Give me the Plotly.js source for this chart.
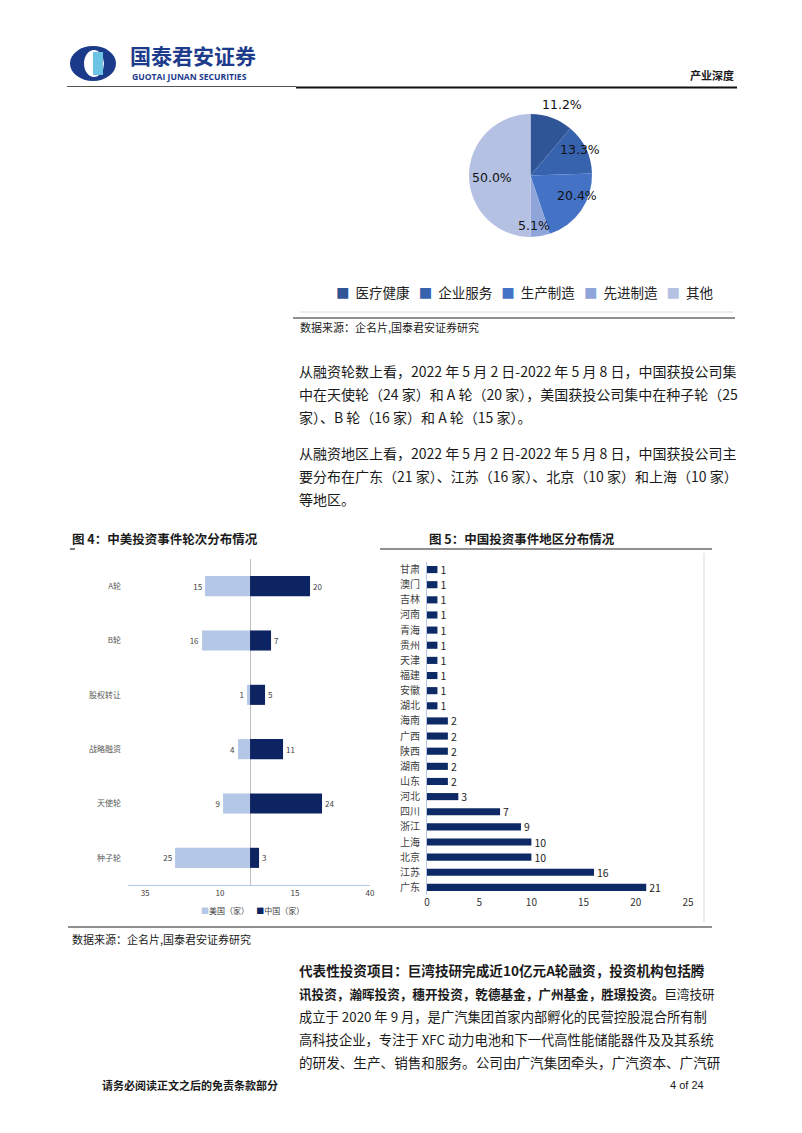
<!DOCTYPE html>
<html>
<head>
<meta charset="utf-8">
<script src="https://cdn.plot.ly/plotly-3.0.1.min.js"></script>
<style>
html,body{margin:0;padding:0;background:#fff;}
#chart{width:802px;height:1133px;}
</style>
</head>
<body>
<div id="chart"></div>
<script>
// ---------- DATA ----------
const pieLabels = ['医疗健康', '企业服务', '生产制造', '先进制造', '其他'];
const pieValues = [11.2, 13.3, 20.4, 5.1, 50.0];

const roundCats = ['A轮', 'B轮', '股权转让', '战略融资', '天使轮', '种子轮'];
const usCounts = [15, 16, 1, 4, 9, 25];
const cnCounts = [20, 7, 5, 11, 24, 3];
const roundTickVals = [-35, -10, 15, 40];
const roundTickText = ['35', '10', '15', '40'];
const roundSeries = ['美国（家）', '中国（家）'];

const regions = ['甘肃', '澳门', '吉林', '河南', '青海', '贵州', '天津', '福建', '安徽', '湖北',
  '海南', '广西', '陕西', '湖南', '山东', '河北', '四川', '浙江', '上海', '北京', '江苏', '广东'];
const regionCounts = [1, 1, 1, 1, 1, 1, 1, 1, 1, 1, 2, 2, 2, 2, 2, 3, 7, 9, 10, 10, 16, 21];
const regionTickVals = [0, 5, 10, 15, 20, 25];

// ---------- STYLE ----------
const W = 802, H = 1133;
const px = x => x / W;
const py = y => 1 - y / H;
const FONT = '"Noto Sans CJK SC", "Noto Sans", sans-serif';
const pieColors = ['#2F5597', '#3762AE', '#4472C4', '#8FA5DA', '#B5C1E3'];
const usColor = '#B4C7E7';
const cnColor = '#0D2462';
const regionColor = '#0E2A66';

// pie label pixel positions
const pieLabelPos = [[562, 104], [580, 150], [577, 196], [534, 226], [492, 177]];

const traces = [];

traces.push({
  type: 'pie',
  labels: pieLabels,
  values: pieValues,
  sort: false,
  direction: 'clockwise',
  rotation: 0,
  marker: {colors: pieColors, line: {width: 0}},
  textinfo: 'none',
  hoverinfo: 'label+percent',
  domain: {x: [px(469), px(592)], y: [py(237), py(114)]},
  showlegend: false
});

traces.push({
  type: 'bar', orientation: 'h',
  name: roundSeries[0],
  y: roundCats,
  x: usCounts.map(v => -v),
  text: usCounts.map(String),
  textposition: 'outside',
  constraintext: 'none',
  textfont: {size: 8, color: '#404040', family: FONT},
  cliponaxis: false,
  marker: {color: usColor},
  width: 0.37,
  xaxis: 'x', yaxis: 'y',
  showlegend: false
});
traces.push({
  type: 'bar', orientation: 'h',
  name: roundSeries[1],
  y: roundCats,
  x: cnCounts,
  text: cnCounts.map(String),
  textposition: 'outside',
  constraintext: 'none',
  textfont: {size: 8, color: '#404040', family: FONT},
  cliponaxis: false,
  marker: {color: cnColor},
  width: 0.37,
  xaxis: 'x', yaxis: 'y',
  showlegend: false
});

traces.push({
  type: 'bar', orientation: 'h',
  y: regions,
  x: regionCounts,
  text: regionCounts.map(String),
  textposition: 'outside',
  constraintext: 'none',
  textfont: {size: 10.5, color: '#222', family: FONT},
  cliponaxis: false,
  marker: {color: regionColor},
  width: 0.47,
  xaxis: 'x2', yaxis: 'y2',
  showlegend: false
});

// ---------- ANNOTATIONS ----------
const ann = [];
function txt(x, y, text, size, opts) {
  opts = opts || {};
  ann.push(Object.assign({
    xref: 'paper', yref: 'paper', x: px(x), y: py(y),
    text: text, showarrow: false,
    xanchor: 'left', yanchor: 'middle',
    font: {size: size, color: '#1a1a1a', family: FONT}
  }, opts));
}

// header
txt(128, 55, '<b>国泰君安证券</b>', 21, {font: {size: 21, color: '#1E3C8C', family: FONT}});
txt(130, 76.5, '<b>GUOTAI JUNAN SECURITIES</b>', 8.6, {font: {size: 8.6, color: '#1E3C8C', family: '"Open Sans", sans-serif'}});
txt(736, 75, '<b>产业深度</b>', 11, {xanchor: 'right'});

// pie labels from values
pieValues.forEach((v, i) => {
  txt(pieLabelPos[i][0], pieLabelPos[i][1], v.toFixed(1) + '%', 12.5,
    {xanchor: 'center', font: {size: 12.5, color: '#111', family: '"DejaVu Sans", sans-serif'}});
});

// pie legend
const pieLegend = pieLabels.map((l, i) =>
  '<span style="color:' + pieColors[i] + '">■</span>  ' + l).join('   ');
txt(524, 292, pieLegend, 13.5, {xanchor: 'center', font: {size: 13.5, color: '#222', family: FONT}});

txt(298, 327, '数据来源：企名片,国泰君安证券研究', 11);

// body paragraph 1
const p1 = [
  '从融资轮数上看，2022 年 5 月 2 日-2022 年 5 月 8 日，中国获投公司集',
  '中在天使轮（24 家）和 A 轮（20 家），美国获投公司集中在种子轮（25',
  '家）、B 轮（16 家）和 A 轮（15 家）。'
];
const p2 = [
  '从融资地区上看，2022 年 5 月 2 日-2022 年 5 月 8 日，中国获投公司主',
  '要分布在广东（21 家）、江苏（16 家）、北京（10 家）和上海（10 家）',
  '等地区。'
];
[371, 394, 417].forEach((y, i) => txt(297, y, p1[i], 14));
[453, 476, 499].forEach((y, i) => txt(297, y, p2[i], 14));

// figure titles
txt(70, 538, '<b>图 4：中美投资事件轮次分布情况</b>', 12.5);
txt(427, 538, '<b>图 5：中国投资事件地区分布情况</b>', 12.5);

// fig4 legend
const rLegend = '<span style="color:' + usColor + '">■</span>' + roundSeries[0] +
  '    <span style="color:' + cnColor + '">■</span>' + roundSeries[1];
txt(252, 910, rLegend, 8, {xanchor: 'center', font: {size: 8, color: '#404040', family: FONT}});

txt(70, 939, '数据来源：企名片,国泰君安证券研究', 11);

// bottom paragraph
const p3 = [
  '<b>代表性投资项目：巨湾技研完成近10亿元A轮融资，投资机构包括腾</b>',
  '<b>讯投资，瀚晖投资，穗开投资，乾德基金，广州基金，胜璟投资。</b>巨湾技研',
  '成立于 2020 年 9 月，是广汽集团首家内部孵化的民营控股混合所有制',
  '高科技企业，专注于 XFC 动力电池和下一代高性能储能器件及及其系统',
  '的研发、生产、销售和服务。公司由广汽集团牵头，广汽资本、广汽研'
];
const p3Size = [13.6, 12.6, 13.3, 13.3, 13.6];
[970, 993, 1016, 1039, 1062].forEach((y, i) => txt(297, y, p3[i], p3Size[i]));

txt(100, 1085, '<b>请务必阅读正文之后的免责条款部分</b>', 11);
txt(668, 1085, '4 of 24', 11, {font: {size: 11, color: '#1a1a1a', family: '"Liberation Sans Narrow", "Liberation Sans", sans-serif'}});

// ---------- SHAPES ----------
function line(x0, y0, x1, y1, color, width) {
  return {type: 'line', xref: 'paper', yref: 'paper',
    x0: px(x0), y0: py(y0), x1: px(x1), y1: py(y1),
    line: {color: color, width: width}};
}
const shapes = [
  // logo
  {type: 'circle', xref: 'paper', yref: 'paper', x0: px(70), x1: px(116), y0: py(81), y1: py(46),
    fillcolor: '#1B3A8A', line: {width: 0}},
  {type: 'circle', xref: 'paper', yref: 'paper', x0: px(84), x1: px(104), y0: py(77), y1: py(50),
    fillcolor: '#FFFFFF', line: {width: 0}},
  {type: 'rect', xref: 'paper', yref: 'paper', x0: px(93), x1: px(103), y0: py(75), y1: py(52),
    fillcolor: '#6CC3E4', line: {width: 0}},
  // header rules
  line(67, 86.5, 296, 86.5, '#555', 1),
  line(296, 87.5, 737, 87.5, '#111', 2.2),
  // pie block rules
  line(300, 312, 733, 312, '#D9D9D9', 1),
  line(293, 318, 735, 318, '#222', 1.2),
  // figure title rules
  line(70, 549, 75, 549, '#222', 1.2),
  line(380, 549, 712, 549, '#222', 1.2),
  // fig5 frame right
  line(704, 553, 704, 922, '#D9D9D9', 1),
  // bottom source rule
  line(68, 927, 712, 927, '#222', 1.2)
];

// ---------- LAYOUT ----------
const layout = {
  width: W, height: H,
  margin: {l: 0, r: 0, t: 0, b: 0},
  paper_bgcolor: '#fff', plot_bgcolor: 'rgba(0,0,0,0)',
  font: {family: FONT, color: '#333'},
  barmode: 'relative',
  showlegend: false,
  xaxis: {
    domain: [px(128), px(370)], range: [-40.7, 40],
    tickmode: 'array', tickvals: roundTickVals, ticktext: roundTickText,
    tickfont: {size: 8, color: '#404040'},
    showline: true, linecolor: '#B4C7E7', linewidth: 1,
    ticks: '', showgrid: false,
    zeroline: true, zerolinecolor: '#BFBFBF', zerolinewidth: 1,
    anchor: 'y', fixedrange: true
  },
  yaxis: {
    domain: [py(885), py(559)],
    type: 'category', autorange: 'reversed',
    tickfont: {size: 8, color: '#595959'},
    showline: false, showgrid: false, zeroline: false, ticks: '',
    ticklabelstandoff: 6,
    anchor: 'x', fixedrange: true
  },
  xaxis2: {
    domain: [px(427), px(688)], range: [0, 25],
    tickmode: 'array', tickvals: regionTickVals,
    tickfont: {size: 10, color: '#333'},
    showline: false, showgrid: false, zeroline: false, ticks: '',
    anchor: 'y2', fixedrange: true
  },
  yaxis2: {
    domain: [py(895), py(562)],
    type: 'category', autorange: 'reversed',
    tickfont: {size: 10, color: '#404040'},
    showline: true, linecolor: '#B4C7E7', linewidth: 1,
    showgrid: false, zeroline: false, ticks: '',
    ticklabelstandoff: 4,
    anchor: 'x2', fixedrange: true
  },
  annotations: ann,
  shapes: shapes
};

Plotly.newPlot('chart', traces, layout, {displayModeBar: false, staticPlot: true});
</script>
</body>
</html>
